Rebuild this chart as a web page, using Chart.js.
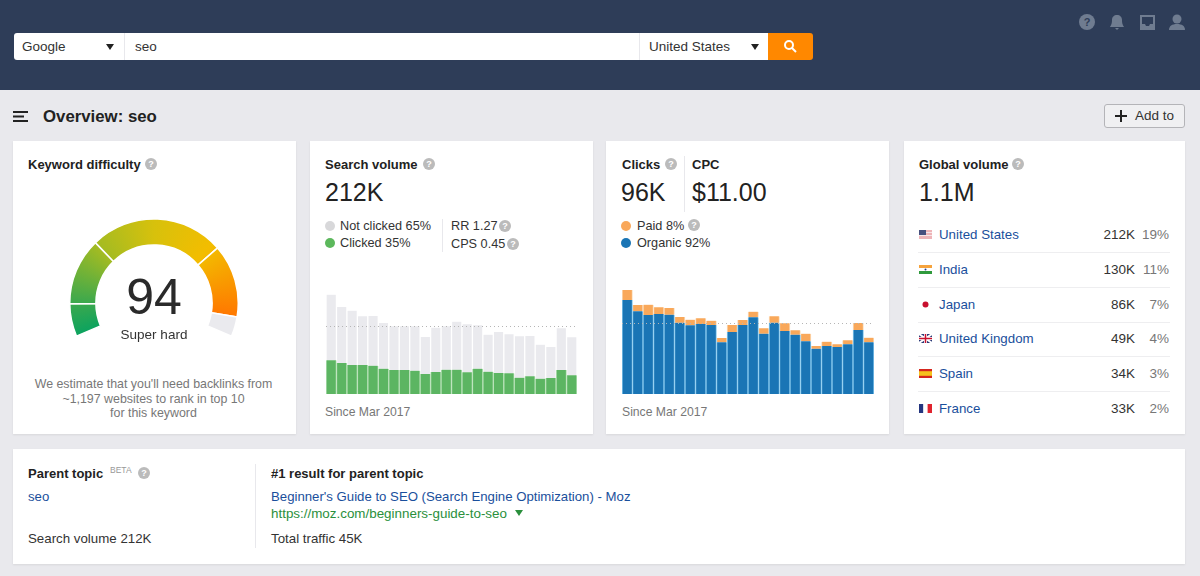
<!DOCTYPE html>
<html lang="en">
<head>
<meta charset="UTF-8" />
<title>Overview: seo</title>
<script src="https://cdn.jsdelivr.net/npm/chart.js"></script>
<style>
  html, body { margin: 0; width: 1200px; height: 576px; overflow: hidden; background: #e9e9ed; }
  body { font-family: "Liberation Sans", Arial, sans-serif; color: #333; position: relative; }
  .box { position: absolute; background: #fff; box-shadow: 0 1px 2px rgba(0,0,0,.08); }
  .t { position: absolute; white-space: nowrap; line-height: 1; font-size: 13.2px; }
  .h { font-weight: bold; color: #222; font-size: 13px; }
  .big { font-size: 25px; color: #222; }
  .leg { font-size: 12.7px; }
  .since { font-size: 12.2px; }
  .link { color: #1a4f9c; }
  .muted { color: #777; }
  .r { text-align: right; }
  .q { position: absolute; width: 12px; height: 12px; border-radius: 50%; background: #bbb; color: #fff;
       font: bold 9px/12px "Liberation Sans", Arial, sans-serif; text-align: center; }
  .dot { position: absolute; width: 10px; height: 10px; border-radius: 50%; }
  .v { position: absolute; width: 1px; background: #e8e8ec; }
  .sep { position: absolute; left: 918px; width: 252px; height: 1px; background: #eeeef0; }
  .tri { position: absolute; width: 0; height: 0; border-left: 4px solid transparent; border-right: 4px solid transparent; border-top: 6px solid #222; }
  canvas { position: absolute; }
  svg { position: absolute; }
</style>
</head>
<body>

  <!-- Barra superior -->
  <div style="position:absolute;left:0;top:0;width:1200px;height:90px;background:#2e3d58"></div>
  <div style="position:absolute;left:14px;top:33px;width:754px;height:27px;background:#fff;border-radius:3px 0 0 3px"></div>
  <div style="position:absolute;left:768px;top:33px;width:45px;height:27px;background:#ff8800;border-radius:0 3px 3px 0"></div>
  <div class="v" style="left:124px;top:33px;height:27px"></div>
  <div class="v" style="left:639px;top:33px;height:27px"></div>
  <div class="t" style="left:22px;top:40px;font-size:13.5px">Google</div>
  <div class="tri" style="left:106px;top:44px"></div>
  <div class="t" style="left:135px;top:40px;font-size:13.5px">seo</div>
  <div class="t" style="left:649px;top:40px;font-size:13.5px">United States</div>
  <div class="tri" style="left:751px;top:44px"></div>
  <svg style="left:783px;top:39px" width="14" height="14" viewBox="0 0 14 14"><circle cx="6" cy="6" r="4" fill="none" stroke="#fff" stroke-width="2"/><line x1="9" y1="9" x2="13" y2="13" stroke="#fff" stroke-width="2"/></svg>
  <svg style="left:1079px;top:14px" width="106" height="17" viewBox="0 0 106 17" fill="#6f7c90">
    <circle cx="8" cy="8" r="8"/><text x="8" y="12" font-size="11" font-weight="bold" text-anchor="middle" fill="#2e3d58" font-family="Liberation Sans">?</text>
    <path d="M38 1c-3 0-5 2-5 5 0 4-1 5-2 7h14c-1-2-2-3-2-7 0-3-2-5-5-5zM36 14h4l-2 2z"/>
    <path d="M61 1h15v15H61zM63 3v7h3l1 2h3l1-2h3V3z"/>
    <circle cx="98" cy="5" r="4.5"/><path d="M90 16c0-4 3-6 8-6s8 2 8 6z"/>
  </svg>

  <!-- Titulo -->
  <svg style="left:13px;top:111px" width="15" height="11" viewBox="0 0 15 11" fill="#222"><rect width="15" height="2"/><rect y="4.5" width="11" height="2"/><rect y="9" width="15" height="2"/></svg>
  <div class="t" style="left:43px;top:109px;font-size:16.8px;font-weight:bold;color:#222">Overview: seo</div>
  <div style="position:absolute;left:1104px;top:104px;width:79px;height:22px;border:1px solid #b4b4b8;border-radius:3px;background:#f0f0f2"></div>
  <svg style="left:1115px;top:110px" width="12" height="12" viewBox="0 0 12 12" fill="#222"><rect x="5" width="2" height="12"/><rect y="5" width="12" height="2"/></svg>
  <div class="t" style="left:1135px;top:109px;font-size:13.5px">Add to</div>

  <!-- Cartoes -->
  <div class="box" style="left:13px;top:141px;width:283px;height:293px"></div>
  <div class="box" style="left:310px;top:141px;width:283px;height:293px"></div>
  <div class="box" style="left:606px;top:141px;width:283px;height:293px"></div>
  <div class="box" style="left:904px;top:141px;width:281px;height:293px"></div>
  <div class="box" style="left:13px;top:449px;width:1172px;height:115px"></div>

  <!-- Keyword difficulty -->
  <div class="t h" style="left:28px;top:158px">Keyword difficulty</div>
  <div class="q" style="left:145px;top:158px">?</div>
  <canvas id="gauge" width="170" height="119" style="left:69px;top:218px"></canvas>
  <div class="t" style="left:104px;width:100px;text-align:center;top:272px;font-size:50px;color:#2a2a2a">94</div>
  <div class="t" style="left:104px;width:100px;text-align:center;top:328px;font-size:13.5px">Super hard</div>
  <div class="t muted" style="left:13px;width:281px;text-align:center;top:377px;line-height:14.5px;white-space:normal;font-size:12.4px">We estimate that you'll need backlinks from<br>~1,197 websites to rank in top 10<br>for this keyword</div>

  <!-- Search volume -->
  <div class="t h" style="left:325px;top:158px">Search volume</div>
  <div class="q" style="left:423px;top:158px">?</div>
  <div class="t big" style="left:325px;top:180px">212K</div>
  <div class="dot" style="left:325px;top:221px;background:#d8d8da"></div>
  <div class="t leg" style="left:340px;top:220px">Not clicked 65%</div>
  <div class="dot" style="left:325px;top:238px;background:#5cb85c"></div>
  <div class="t leg" style="left:340px;top:237px">Clicked 35%</div>
  <div class="v" style="left:442px;top:219px;height:33px"></div>
  <div class="t leg" style="left:451px;top:220px">RR 1.27</div>
  <div class="q" style="left:499px;top:220px">?</div>
  <div class="t leg" style="left:451px;top:238px">CPS 0.45</div>
  <div class="q" style="left:507px;top:238px">?</div>
  <canvas id="volumeChart" width="251" height="104" style="left:326px;top:290px"></canvas>
  <div class="t muted since" style="left:325px;top:406px">Since Mar 2017</div>

  <!-- Clicks / CPC -->
  <div class="t h" style="left:622px;top:158px">Clicks</div>
  <div class="q" style="left:665px;top:158px">?</div>
  <div class="v" style="left:684px;top:156px;height:56px"></div>
  <div class="t h" style="left:692px;top:158px">CPC</div>
  <div class="t big" style="left:621px;top:180px">96K</div>
  <div class="t big" style="left:692px;top:180px">$11.00</div>
  <div class="dot" style="left:621px;top:221px;background:#f9a85a"></div>
  <div class="t leg" style="left:637px;top:220px">Paid 8%</div>
  <div class="q" style="left:688px;top:219px">?</div>
  <div class="dot" style="left:621px;top:238px;background:#1a75b5"></div>
  <div class="t leg" style="left:637px;top:237px">Organic 92%</div>
  <canvas id="clicksChart" width="252" height="104" style="left:622px;top:290px"></canvas>
  <div class="t muted since" style="left:622px;top:406px">Since Mar 2017</div>

  <!-- Global volume -->
  <div class="t h" style="left:919px;top:158px">Global volume</div>
  <div class="q" style="left:1012px;top:158px">?</div>
  <div class="t big" style="left:919px;top:180px">1.1M</div>
  <div id="countries"></div>

  <!-- Parent topic -->
  <div class="t h" style="left:28px;top:467px">Parent topic</div>
  <div class="t" style="left:110px;top:466px;font-size:8.5px;color:#999">BETA</div>
  <div class="q" style="left:138px;top:467px">?</div>
  <div class="t link" style="left:28px;top:490px">seo</div>
  <div class="t" style="left:28px;top:532px;font-size:13.3px">Search volume 212K</div>
  <div class="v" style="left:255px;top:464px;height:84px"></div>
  <div class="t h" style="left:271px;top:467px">#1 result for parent topic</div>
  <div class="t link" style="left:271px;top:490px">Beginner's Guide to SEO (Search Engine Optimization) - Moz</div>
  <div class="t" style="left:271px;top:507px;color:#2a8f3c;font-size:13.4px">https://moz.com/beginners-guide-to-seo</div>
  <div class="tri" style="left:515px;top:510px;border-top-color:#2a8f3c"></div>
  <div class="t" style="left:271px;top:532px;font-size:13.3px">Total traffic 45K</div>

<script>
// Dados
const months = ['1','2','3','4','5','6','7','8','9','10','11','12','13','14','15','16','17','18','19','20','21','22','23','24'];
const clicked = [101,93,87,87,85,76,72,72,70,60,66,73,73,65,76,67,63,62,49,53,46,48,72,56];
const notClicked = [197,168,163,146,149,137,131,131,133,111,133,130,144,144,130,111,123,117,124,121,102,93,125,114];
const volumeAverage = 203;
const organic = [282,248,237,240,238,214,206,210,207,155,186,207,230,181,214,189,178,158,136,144,141,149,192,155];
const paid = [30,19,31,20,20,17,17,17,13,13,21,15,17,16,19,23,13,23,8,13,8,12,21,14];
const clicksAverage = 213;
const chartMax = 312;

const gaugeBands = [10, 20.5, 41.2, 22.3, 6];

const countries = ['United States','India','Japan','United Kingdom','Spain','France'];
const countryVolumes = ['212K','130K','86K','49K','34K','33K'];
const countryShares = ['19%','11%','7%','4%','3%','2%'];

const flags = [
  '<rect width="13" height="9" fill="#eeb4b8"/><rect y="2" width="13" height="1" fill="#f7e6e8"/><rect y="5" width="13" height="1" fill="#f7e6e8"/><rect width="7" height="5" fill="#47507e"/>',
  '<rect width="13" height="3" fill="#f6a33c"/><rect y="3" width="13" height="3" fill="#fff"/><rect y="6" width="13" height="3" fill="#2f9a3c"/><circle cx="6.5" cy="4.5" r="1" fill="#2b3f88"/>',
  '<rect width="13" height="9" fill="#fff"/><circle cx="6.5" cy="4.5" r="3" fill="#c8102e"/>',
  '<rect width="13" height="9" fill="#2b3a78"/><path d="M0 0L13 9M13 0L0 9" stroke="#fff" stroke-width="2"/><path d="M6.5 0V9M0 4.5H13" stroke="#fff" stroke-width="3"/><path d="M6.5 0V9M0 4.5H13" stroke="#c8102e" stroke-width="1.5"/>',
  '<rect width="13" height="9" fill="#d5261e"/><rect y="2.2" width="13" height="4.6" fill="#f6c21c"/>',
  '<rect width="4.4" height="9" fill="#24357f"/><rect x="4.4" width="4.2" height="9" fill="#fff"/><rect x="8.6" width="4.4" height="9" fill="#e0232e"/>'
];

// Tabela de paises
const rowTops = [234, 269, 304, 338.5, 373, 408];
let rows = '';
countries.forEach((name, i) => {
  const y = rowTops[i];
  rows += `<svg style="left:919px;top:${y - 4.5}px" width="13" height="9" viewBox="0 0 13 9">${flags[i]}</svg>`;
  rows += `<div class="t link" style="left:939px;top:${y - 6.5}px;font-size:13.3px">${name}</div>`;
  rows += `<div class="t r" style="left:1075px;width:60px;top:${y - 6.5}px;font-size:13.5px">${countryVolumes[i]}</div>`;
  rows += `<div class="t r muted" style="left:1130px;width:39px;top:${y - 6.5}px;font-size:13.5px">${countryShares[i]}</div>`;
  if (i < countries.length - 1) rows += `<div class="sep" style="top:${y + 17.5}px"></div>`;
});
document.getElementById('countries').innerHTML = rows;

// Linha pontilhada da media
const averageLine = {
  id: 'averageLine',
  afterDatasetsDraw(chart, args, opts) {
    const { ctx, chartArea, scales } = chart;
    const y = Math.round(scales.y.getPixelForValue(opts.value)) + 0.5;
    ctx.save();
    ctx.strokeStyle = '#b5b5b5';
    ctx.setLineDash([1, 3]);
    ctx.beginPath();
    ctx.moveTo(chartArea.left, y);
    ctx.lineTo(chartArea.right, y);
    ctx.stroke();
    ctx.restore();
  }
};

function stackedBars(id, lower, upper, average) {
  new Chart(document.getElementById(id), {
    type: 'bar',
    data: { labels: months, datasets: [lower, upper] },
    plugins: [averageLine],
    options: {
      responsive: false,
      animation: false,
      layout: { padding: 0 },
      plugins: { legend: { display: false }, tooltip: { enabled: false }, averageLine: { value: average } },
      datasets: { bar: { categoryPercentage: 1, barPercentage: 1, borderWidth: { left: 1, right: 1 } } },
      scales: {
        x: { stacked: true, display: false },
        y: { stacked: true, display: false, min: 0, max: chartMax }
      }
    }
  });
}

stackedBars('volumeChart',
  { data: clicked, backgroundColor: '#5cb562', borderColor: '#b9e2b9' },
  { data: notClicked, backgroundColor: '#eaeaee', borderColor: '#ffffff' },
  volumeAverage);

stackedBars('clicksChart',
  { data: organic, backgroundColor: '#1a75b5', borderColor: '#8ccdf0' },
  { data: paid, backgroundColor: '#f9a85a', borderColor: '#fde0c0' },
  clicksAverage);

// Medidor de dificuldade
function gaugeFill(context) {
  const { chart, dataIndex } = context;
  if (dataIndex === gaugeBands.length - 1) return '#eaeaee';
  const c = chart.width / 2;
  const sweep = 226 / 360;
  const g = chart.ctx.createConicGradient((157 * Math.PI) / 180, c, c);
  g.addColorStop(0, '#0ca35f');
  g.addColorStop(sweep * 0.1, '#3aa84e');
  g.addColorStop(sweep * 0.3, '#a3bb22');
  g.addColorStop(sweep * 0.5, '#d7c10c');
  g.addColorStop(sweep * 0.7, '#f3bd00');
  g.addColorStop(sweep * 0.94, '#ff7800');
  g.addColorStop(1, '#ff7800');
  return g;
}

new Chart(document.getElementById('gauge'), {
  type: 'doughnut',
  data: { labels: ['a','b','c','d','e'], datasets: [{ data: gaugeBands, backgroundColor: gaugeFill, borderColor: '#fff', borderWidth: 1.5 }] },
  options: {
    responsive: false,
    animation: false,
    rotation: -113,
    circumference: 226,
    cutout: '69%',
    plugins: { legend: { display: false }, tooltip: { enabled: false } }
  }
});
</script>
</body>
</html>
